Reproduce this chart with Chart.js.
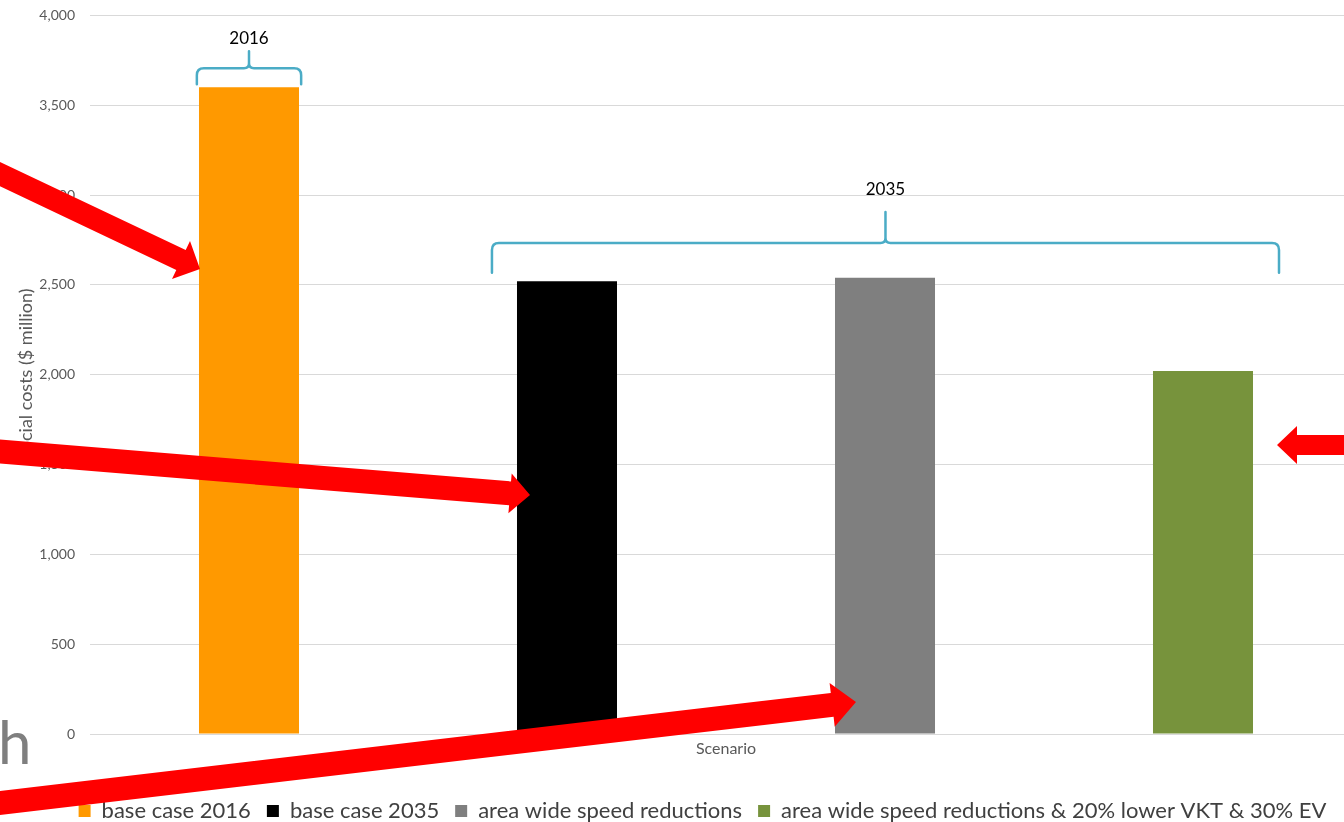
<!DOCTYPE html>
<html>
<head>
<meta charset="utf-8">
<script src="https://cdn.jsdelivr.net/npm/chart.js@4/dist/chart.umd.min.js"></script>
<style>
html, body { margin: 0; padding: 0; overflow: hidden; background: #fff; width: 1344px; height: 822px; }
#wrap { position: absolute; left: 0; top: -8px; width: 1364px; height: 840px; }
#ov { position: absolute; left: 0; top: 0; width: 1344px; height: 822px; pointer-events: none; }
</style>
</head>
<body>
<div id="wrap"><canvas id="c"></canvas></div>
<svg id="ov" width="1344" height="822" xmlns="http://www.w3.org/2000/svg"></svg>
<script>
// ---- data ----
const categories = ['base case 2016', 'base case 2035', 'area wide speed reductions', 'area wide speed reductions & 20% lower VKT & 30% EV'];
const values = [3600, 2520, 2540, 2020];
const colors = ['#FF9900', '#000000', '#7F7F7F', '#77933C'];
const yMin = 0, yMax = 4000, yStep = 500;
const yTitle = 'Social costs ($ million)';
const xTitle = 'Scenario';
const groupLabels = ['2016', '2035'];

Chart.defaults.font.family = 'Lato, "Noto Sans", sans-serif';

const datasets = categories.map((name, i) => ({
  label: name,
  data: categories.map((_, j) => (j === i ? values[i] : null)),
  backgroundColor: colors[i],
  borderWidth: 0,
  categoryPercentage: 1,
  barPercentage: 0.3145
}));

// braces: x in category units, y in value units
const braces = [
  { from: -0.164, to: 0.164, yEnd: 3617, yLine: 3706, yTop: 3800, yLabel: 3872, text: groupLabels[0] },
  { from: 0.764, to: 3.239, yEnd: 2567, yLine: 2733, yTop: 2906, yLabel: 3033, text: groupLabels[1] }
];

const bracePlugin = {
  id: 'braces',
  afterDatasetsDraw(chart) {
    const ctx = chart.ctx, xs = chart.scales.x, ys = chart.scales.y;
    ctx.save();
    ctx.strokeStyle = '#4BACC6';
    ctx.lineWidth = 2.5;
    ctx.lineJoin = 'round';
    ctx.lineCap = 'round';
    braces.forEach(b => {
      const xL = xs.getPixelForValue(b.from), xR = xs.getPixelForValue(b.to);
      const xm = (xL + xR) / 2;
      const yE = ys.getPixelForValue(b.yEnd), yH = ys.getPixelForValue(b.yLine), yT = ys.getPixelForValue(b.yTop);
      const r = Math.min(7, (yE - yH) * 0.45), r2 = 5;
      ctx.beginPath();
      ctx.moveTo(xL, yE);
      ctx.lineTo(xL, yH + r);
      ctx.quadraticCurveTo(xL, yH, xL + r, yH);
      ctx.lineTo(xm - r2, yH);
      ctx.quadraticCurveTo(xm, yH, xm, yH - r2);
      ctx.lineTo(xm, yT);
      ctx.moveTo(xm, yH - r2);
      ctx.quadraticCurveTo(xm, yH, xm + r2, yH);
      ctx.lineTo(xR - r, yH);
      ctx.quadraticCurveTo(xR, yH, xR, yH + r);
      ctx.lineTo(xR, yE);
      ctx.stroke();
      ctx.fillStyle = '#000';
      ctx.font = '17px Lato, sans-serif';
      ctx.textAlign = 'center';
      ctx.textBaseline = 'middle';
      ctx.fillText(b.text, xm, ys.getPixelForValue(b.yLabel));
    });
    ctx.restore();
  }
};

const legendShift = {
  id: 'legendShift',
  afterLayout(chart) {
    const l = chart.legend;
    if (l) { l.left += 14; l.right += 14; }
  }
};

new Chart(document.getElementById('c'), {
  type: 'bar',
  data: { labels: categories, datasets },
  plugins: [bracePlugin, legendShift],
  options: {
    responsive: true,
    maintainAspectRatio: false,
    animation: false,
    layout: { padding: { left: 15, right: 2, top: 6, bottom: 0 } },
    plugins: {
      tooltip: { enabled: false },
      legend: {
        position: 'bottom',
        labels: {
          boxWidth: 12, boxHeight: 12, padding: 16,
          color: '#404040',
          font: { size: 22 }
        }
      }
    },
    scales: {
      x: {
        stacked: true,
        grid: { display: false, drawTicks: false },
        border: { display: false },
        ticks: { display: false },
        title: { display: true, text: xTitle, color: '#595959', font: { size: 16 }, padding: { top: 5.4, bottom: 25.4 } }
      },
      y: {
        min: yMin, max: yMax,
        grid: { color: '#D9D9D9', lineWidth: 1, drawTicks: false },
        border: { display: false },
        ticks: { stepSize: yStep, color: '#595959', font: { size: 14 }, padding: 15,
          callback: v => v.toLocaleString('en-US') },
        title: { display: true, text: yTitle, color: '#595959', font: { size: 18 }, padding: 0 },
        afterFit(scale) { scale.width = 75; }
      }
    }
  }
});

// ---- overlay decorations (red arrows and cropped letter) ----
const svg = document.getElementById('ov');
const NS = 'http://www.w3.org/2000/svg';
function arrow(tail, tip, shaftW, headW, headL) {
  const dx = tip[0] - tail[0], dy = tip[1] - tail[1];
  const len = Math.hypot(dx, dy);
  const ux = dx / len, uy = dy / len, px = -uy, py = ux;
  const bx = tip[0] - ux * headL, by = tip[1] - uy * headL;
  const s = shaftW / 2, h = headW / 2;
  const pts = [
    [tail[0] + px * s, tail[1] + py * s],
    [bx + px * s, by + py * s],
    [bx + px * h, by + py * h],
    tip,
    [bx - px * h, by - py * h],
    [bx - px * s, by - py * s],
    [tail[0] - px * s, tail[1] - py * s]
  ];
  const p = document.createElementNS(NS, 'polygon');
  p.setAttribute('points', pts.map(q => q[0].toFixed(1) + ',' + q[1].toFixed(1)).join(' '));
  p.setAttribute('fill', '#FF0000');
  svg.appendChild(p);
}
const t = document.createElementNS(NS, 'text');
t.setAttribute('x', '-2'); t.setAttribute('y', '764');
t.setAttribute('font-family', 'Lato, sans-serif'); t.setAttribute('font-size', '60');
t.setAttribute('fill', '#7F7F7F');
t.textContent = 'h';
svg.appendChild(t);
arrow([-30, 160], [200, 269], 22, 42, 21);
arrow([-30, 449], [530, 495], 24, 40, 20);
arrow([-30, 806.5], [856, 702], 24, 44, 24);
arrow([1370, 445], [1277, 445], 20, 38, 20);
</script>
</body>
</html>
